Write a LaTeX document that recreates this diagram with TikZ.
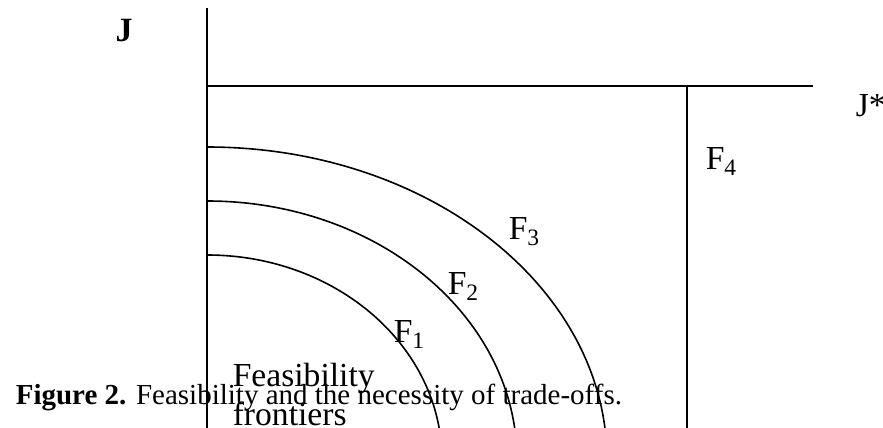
\documentclass[tikz,border=0pt]{standalone}
\usepackage{fontspec}
\setmainfont{Liberation Serif}
\usetikzlibrary{positioning}

\begin{document}
\begin{tikzpicture}[x=0.5pt, y=0.5pt, line width=0.8pt,
        lbl/.style={font=\fontsize{16.8}{20}\selectfont, inner sep=0pt, anchor=base west},
        capt/.style={font=\fontsize{14.5}{17}\selectfont, inner sep=0pt, anchor=base west}]
            \useasboundingbox (0,0) rectangle (883,428);
            \clip (0,0) rectangle (883,428);
            \draw (207,0) -- (207,420);
            \draw (207,342) -- (813,342);
            \draw (687,0) -- (687,342);
            \foreach \rx/\ry/\top in {235/205/173, 310/259/227, 400/313/281}
                \draw (207,\top) arc[start angle=90, end angle=0, x radius=\rx, y radius=\ry];
            %Labels
            \node[lbl, anchor=center, font=\fontsize{17}{20}\bfseries\selectfont] (jlab) at (124,397) {J};
            \node[lbl] (jstar) at (855,311) {J*};
            \node[lbl] (ffour) at (705,258) {F\textsubscript{4}};
            \node[lbl] (fthree) at (508,188) {F\textsubscript{3}};
            \node[lbl] (ftwo) at (447,133) {F\textsubscript{2}};
            \node[lbl] (fone) at (393,85) {F\textsubscript{1}};
            \node[lbl] (feas) at (232,41) {Feasibility};
            \node[lbl] (front) at (232,3) {frontiers};
            \node[capt] (caption) at (15,23) {\textbf{Figure 2.} Feasibility and the necessity of trade-offs.};
        \end{tikzpicture}
\end{document}
